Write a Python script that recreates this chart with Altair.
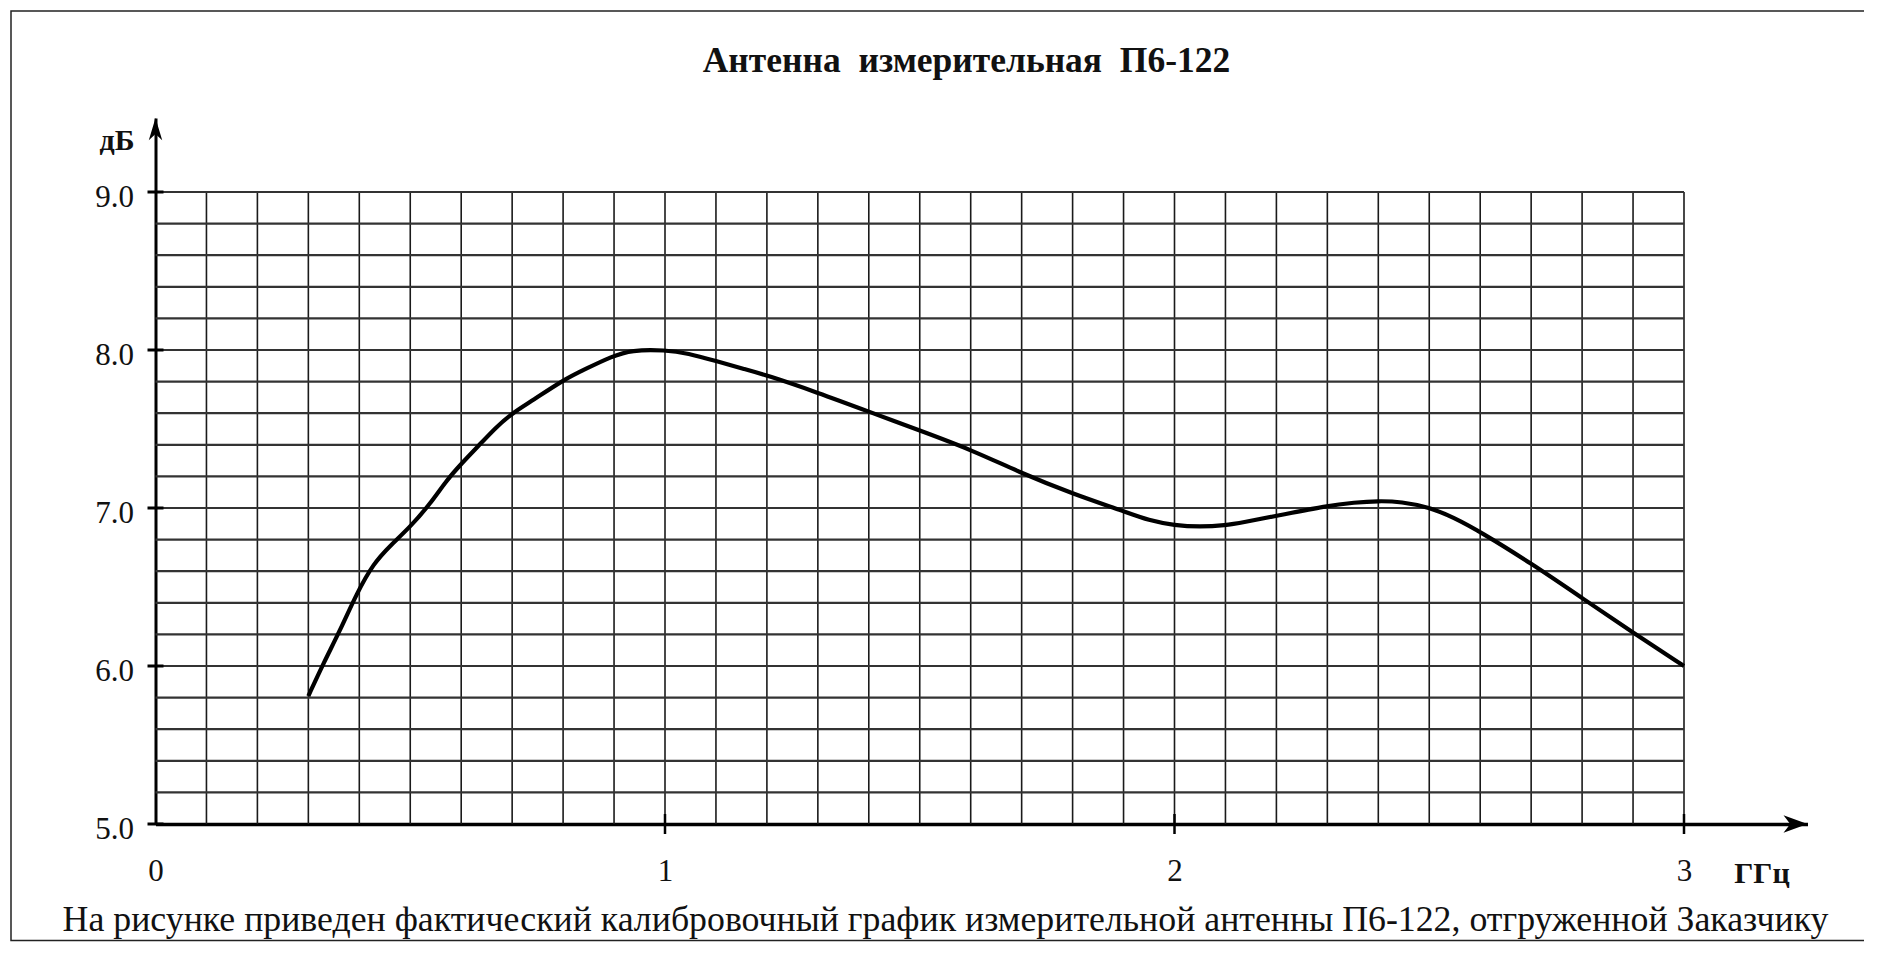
import altair as alt
import pandas as pd

# ---- data ----
freq_ghz = [0.30, 0.33, 0.363, 0.395, 0.428, 0.46, 0.50, 0.54, 0.57, 0.60, 0.636, 0.668,
            0.70, 0.74, 0.80, 0.844, 0.896, 0.934, 1.0, 1.045, 1.10, 1.155, 1.20, 1.30,
            1.40, 1.50, 1.60, 1.70, 1.80, 1.90, 1.95, 2.0, 2.05, 2.10, 2.135, 2.20, 2.30,
            2.353, 2.40, 2.445, 2.50, 2.548, 2.60, 2.70, 2.80, 2.90, 3.0]
gain_db = [5.81, 6.02, 6.23, 6.46, 6.65, 6.76, 6.88, 7.03, 7.17, 7.28, 7.40, 7.51,
           7.60, 7.68, 7.81, 7.88, 7.96, 8.0, 8.0, 7.98, 7.93, 7.88, 7.84, 7.73,
           7.61, 7.49, 7.37, 7.22, 7.09, 6.98, 6.92, 6.89, 6.88, 6.89, 6.91, 6.95, 7.015,
           7.035, 7.045, 7.04, 7.005, 6.94, 6.85, 6.65, 6.43, 6.21, 6.00]
x_ticks = [0, 1, 2, 3]
y_ticks = [5, 6, 7, 8, 9]
x_grid = [round(0.1 * i, 1) for i in range(1, 31)]
y_grid = [round(5 + 0.2 * i, 1) for i in range(1, 21)]

TITLE = "Антенна\u00a0 измерительная\u00a0 П6-122"
CAPTION = "На рисунке приведен фактический калибровочный график измерительной антенны П6-122, отгруженной Заказчику"
Y_UNIT = "дБ"
X_UNIT = "ГГц"

# ---- layout ----
W, H = 1652, 706
XMAX = W / 509.5
YMAX = 5 + H / 158.0
SERIF = "Liberation Serif"

xs = alt.Scale(domain=[0, XMAX], nice=False, zero=False)
ys = alt.Scale(domain=[5, YMAX], nice=False, zero=False)

x_axis = alt.Axis(
    values=x_ticks, format="d", grid=False, ticks=False, domain=True,
    domainColor="black", domainWidth=3.5,
    labelFont=SERIF, labelFontSize=31, labelColor="#111",
    labelPadding=47, labelBaseline="middle", labelFlush=False,
    title=X_UNIT, titleFont=SERIF, titleFontSize=30, titleFontWeight="bold",
    titleColor="#111", titleX=1606, titleY=49,
    titleAlign="center", titleBaseline="middle")
y_axis = alt.Axis(
    values=y_ticks, format=".1f", grid=False, ticks=False, domain=True,
    domainColor="black", domainWidth=3,
    labelFont=SERIF, labelFontSize=31, labelColor="#111",
    labelPadding=22, labelOffset=5, labelBaseline="middle",
    title=Y_UNIT, titleFont=SERIF, titleFontSize=30, titleFontWeight="bold",
    titleColor="#111", titleAngle=0, titleX=-39, titleY=22,
    titleAlign="center", titleBaseline="middle")

curve = pd.DataFrame({"f": freq_ghz, "g": gain_db})
vgrid = pd.DataFrame({"f": x_grid, "g0": 5.0, "g1": 9.0})
hgrid = pd.DataFrame({"g": y_grid, "f0": 0.0, "f1": 3.0})
yt = pd.DataFrame({"g": y_ticks})
xt = pd.DataFrame({"f": [1, 2, 3]})
texts = pd.DataFrame({"t": [TITLE], "c": [CAPTION]})

vlines = alt.Chart(vgrid).mark_rule(color="#1a1a1a", strokeWidth=1.6).encode(
    x=alt.X("f:Q", scale=xs, axis=x_axis),
    y=alt.Y("g0:Q", scale=ys, axis=y_axis),
    y2="g1:Q",
)
hlines = alt.Chart(hgrid).mark_rule(color="#333", strokeWidth=2.2).encode(
    y=alt.Y("g:Q", scale=ys, axis=y_axis),
    x=alt.X("f0:Q", scale=xs, axis=x_axis),
    x2="f1:Q",
)

yticks = alt.Chart(yt).mark_rule(color="black", strokeWidth=3).encode(
    x=alt.value(-8), x2=alt.value(8),
    y=alt.Y("g:Q", scale=ys, axis=y_axis),
)
xticks = alt.Chart(xt).mark_rule(color="black", strokeWidth=2.5).encode(
    x=alt.X("f:Q", scale=xs, axis=x_axis),
    y=alt.value(H - 10), y2=alt.value(H + 10),
)

x_arrow = alt.Chart(pd.DataFrame({"f": [XMAX], "g": [5.0]})).mark_point(
    shape="M0,0 L-1,-0.36 L-0.72,0 L-1,0.36 Z", filled=True, color="black",
    size=2304, opacity=1, strokeWidth=0,
).encode(x=alt.X("f:Q", scale=xs, axis=x_axis), y=alt.Y("g:Q", scale=ys, axis=y_axis))

y_arrow = alt.Chart(pd.DataFrame({"f": [0.0], "g": [YMAX]})).mark_point(
    shape="M0,0 L-0.3,1 L0,0.72 L0.3,1 Z", filled=True, color="black",
    size=2000, opacity=1, strokeWidth=0,
).encode(x=alt.X("f:Q", scale=xs, axis=x_axis), y=alt.Y("g:Q", scale=ys, axis=y_axis))

line = alt.Chart(curve).mark_line(color="black", strokeWidth=4.2, interpolate="basis").encode(
    x=alt.X("f:Q", scale=xs, axis=x_axis), y=alt.Y("g:Q", scale=ys, axis=y_axis)
)

frame = alt.Chart(texts).mark_rect(fill=None, stroke="#222", strokeWidth=1.5).encode(
    x=alt.value(-144.5), x2=alt.value(1712.5), y=alt.value(-107), y2=alt.value(822.5)
)

title = alt.Chart(texts).mark_text(
    font=SERIF, fontSize=35.5, fontWeight="bold", color="#111", align="center", baseline="alphabetic"
).encode(text="t:N", x=alt.value(811), y=alt.value(-46))

caption = alt.Chart(texts).mark_text(
    font=SERIF, fontSize=35.8, color="#111", align="center", baseline="alphabetic"
).encode(text="c:N", x=alt.value(790), y=alt.value(813))

chart = alt.layer(vlines, hlines, yticks, xticks, line, x_arrow, y_arrow, frame, title, caption).properties(
    width=W, height=H,
    padding={"left": 147.5, "top": 110, "right": 56, "bottom": 118},
    autosize=alt.AutoSizeParams(type="none"),
    background="white",
).configure_view(stroke=None)

chart.save("out.html", embed_options={"renderer": "svg", "actions": False})
